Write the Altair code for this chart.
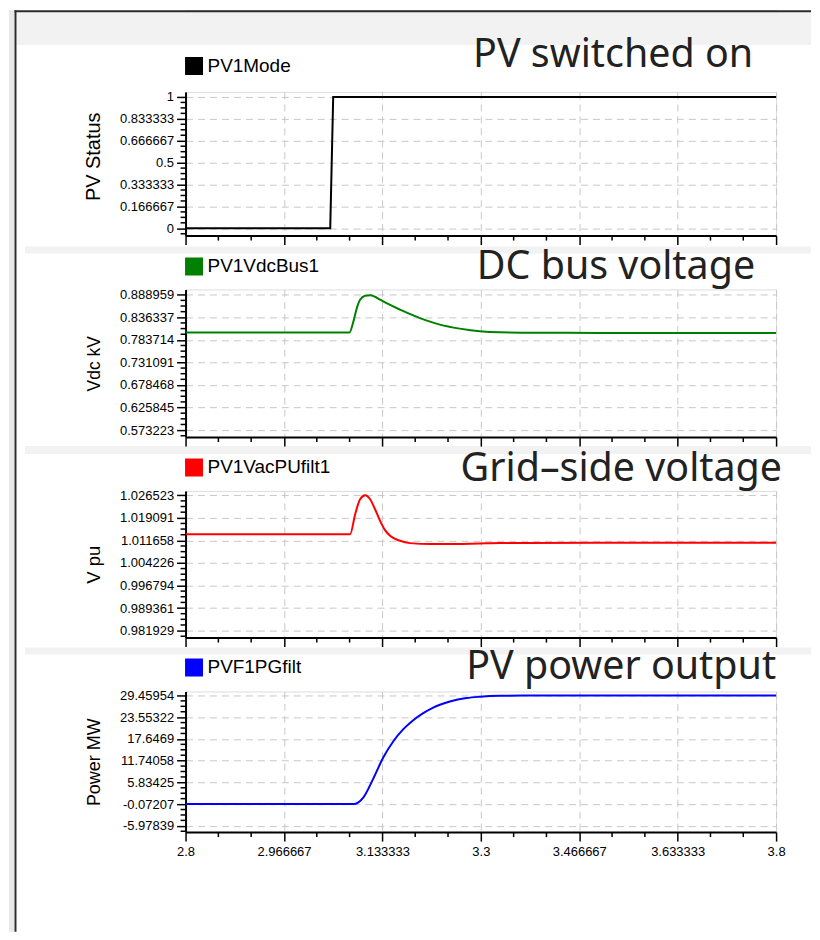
import altair as alt
import pandas as pd

# ---------------- data ----------------
x_ticks = [2.8, 2.966667, 3.133333, 3.3, 3.466667, 3.633333, 3.8]

mode_name = "PV1Mode"
mode_t = [2.8, 3.045, 3.050, 3.8]
mode_v = [0, 0, 1, 1]
mode_ticks = [0, 0.166667, 0.333333, 0.5, 0.666667, 0.833333, 1]

vdc_name = "PV1VdcBus1"
vdc_t = [2.8, 3.0775, 3.0843, 3.0900, 3.0956, 3.1041, 3.1125, 3.1209, 3.1294,
         3.1632, 3.1970, 3.2307, 3.2645, 3.2983, 3.3321, 3.40, 3.50, 3.8]
vdc_v = [0.8008, 0.8008, 0.8268, 0.8578, 0.8773, 0.8866, 0.8880, 0.8843, 0.8773,
         0.8541, 0.8345, 0.8192, 0.8099, 0.8036, 0.8012, 0.8003, 0.8000, 0.8000]
vdc_ticks = [0.573223, 0.625845, 0.678468, 0.731091, 0.783714, 0.836337, 0.888959]

vac_name = "PV1VacPUfilt1"
vac_t = [2.8, 3.0787, 3.0872, 3.0956, 3.1041, 3.1125, 3.1209, 3.1294, 3.1378,
         3.1463, 3.1632, 3.1801, 3.2139, 3.2476, 3.2983, 3.3321, 3.50, 3.8]
vac_v = [1.01370, 1.01370, 1.02028, 1.02521, 1.02652, 1.02521, 1.02192, 1.01808, 1.01502,
         1.01315, 1.01151, 1.01075, 1.01042, 1.01042, 1.01062, 1.01075, 1.01085, 1.01085]
vac_ticks = [0.981929, 0.989361, 0.996794, 1.004226, 1.011658, 1.019091, 1.026523]

pg_name = "PVF1PGfilt"
pg_t = [2.8, 3.0843, 3.0927, 3.1012, 3.1181, 3.1350, 3.1519, 3.1688, 3.1856,
        3.2025, 3.2194, 3.2476, 3.2758, 3.2983, 3.3321, 3.3878, 3.50, 3.8]
pg_v = [-0.07207, -0.07207, 0.40, 1.75, 6.93, 12.66, 17.02, 20.29, 22.74,
        24.65, 26.15, 27.79, 28.74, 29.10, 29.37, 29.45, 29.46, 29.46]
pg_ticks = [-5.97839, -0.07207, 5.83425, 11.74058, 17.6469, 23.55322, 29.45954]

notes = ["PV switched on", "DC bus voltage", "Grid\u2013side voltage", "PV power output"]
y_titles = ["PV Status", "Vdc kV", "V pu", "Power MW"]
colors = ["#000000", "#008000", "#ff0000", "#0000ff"]

# ---------------- layout / style ----------------
W = 592
FONT = "Liberation Sans"
GRID = "#c8c8c8"


def minor_of(major, n_sub, lo, hi):
    vals = []
    for a, b in zip(major[:-1], major[1:]):
        for k in range(1, n_sub):
            vals.append(a + (b - a) * k / n_sub)
    step = (major[1] - major[0]) / n_sub
    k = 1
    while major[0] - k * step >= lo:
        vals.append(major[0] - k * step)
        k += 1
    k = 1
    while major[-1] + k * step <= hi:
        vals.append(major[-1] + k * step)
        k += 1
    return sorted(vals)


def major_axis(values, orient, labels=True, title=None, title_size=18.5, title_y=None):
    kw = dict(
        values=values, orient=orient, labels=labels,
        labelOverlap=False, labelFlush=False,
        labelFont=FONT, labelFontSize=13, labelColor="black",
        labelPadding=4 if orient == "bottom" else 3,
        domainColor="black", domainWidth=2,
        tickColor="black", tickWidth=1.5, tickSize=9,
        grid=True, gridColor=GRID, gridDash=[7, 5], gridWidth=1,
        titleFont=FONT, titleFontSize=title_size, titleFontWeight="normal",
        titleColor="black", titlePadding=16,
    )
    if labels:
        kw["labelExpr"] = "toString(datum.value)"
    kw["title"] = title
    if title_y is not None:
        kw["titleY"] = title_y
    return alt.Axis(**kw)


def panel(t, v, name, color, yticks, ylo, yhi, ytitle, height, note, note_dx,
          legend_y, title_offset, interp, xlabels, title_size, title_y=None):
    df = pd.DataFrame({"t": t, "v": v, "series": name})
    xs = alt.Scale(domain=[2.8, 3.8], nice=False, zero=False)
    ys = alt.Scale(domain=[ylo, yhi], nice=False, zero=False)
    xax = major_axis(x_ticks, "bottom", labels=xlabels, title=None)
    yax = major_axis(yticks, "left", labels=True, title=ytitle,
                     title_size=title_size, title_y=title_y)
    xm = pd.DataFrame({"t": minor_of(x_ticks, 3, 2.8, 3.8)})
    ym = pd.DataFrame({"v": minor_of(yticks, 4, ylo, yhi)})

    line = alt.Chart(df).mark_line(strokeWidth=2, interpolate=interp).encode(
        x=alt.X("t:Q", scale=xs, axis=xax),
        y=alt.Y("v:Q", scale=ys, axis=yax),
        color=alt.Color("series:N", scale=alt.Scale(domain=[name], range=[color]),
                        legend=alt.Legend(orient="none", legendX=-1, legendY=legend_y,
                                          title=None, symbolType="square",
                                          symbolSize=256, symbolStrokeWidth=2,
                                          symbolFillColor=color,
                                          labelFont=FONT, labelFontSize=19,
                                          labelColor="black", labelOffset=4,
                                          padding=0)),
    )
    # minor tick marks along both axes, positioned through the same scales
    x_minor = alt.Chart(xm).mark_rule(color="black", strokeWidth=1.5).encode(
        x=alt.X("t:Q", scale=xs, axis=xax),
        y=alt.value(height), y2=alt.value(height + 5),
    )
    y_minor = alt.Chart(ym).mark_rule(color="black", strokeWidth=1.5).encode(
        y=alt.Y("v:Q", scale=ys, axis=yax),
        x=alt.value(-5), x2=alt.value(0),
    )
    return alt.layer(line, x_minor, y_minor).properties(
        width=W, height=height,
        title=alt.Title(note, anchor="end", font="Noto Sans", fontSize=39.5,
                        fontWeight="normal", color="#222222", dx=note_dx,
                        offset=title_offset),
    )


# decorative slide frame (header cell, origin at page (185, 8))
OX, OY = 185, 8
deco = pd.DataFrame({"k": [0]})


def rect(px1, px2, py1, py2, color):
    return alt.Chart(deco).mark_rect(color=color).encode(
        x=alt.value(px1 - OX), x2=alt.value(px2 - OX),
        y=alt.value(py1 - OY), y2=alt.value(py2 - OY))


header = alt.layer(
    rect(8, 13, 8, 932, "#e8e8e8"),
    rect(15.5, 812, 10, 43, "#f2f2f2"),
    rect(24, 812, 245, 252, "#f2f2f2"),
    rect(24, 812, 445, 453, "#f2f2f2"),
    rect(24, 812, 647, 654, "#f2f2f2"),
    rect(13.5, 15.5, 8, 932, "#2b2b2b"),
    rect(13.5, 812, 8, 10, "#2b2b2b"),
).properties(width=W, height=28)

p1 = panel(mode_t, mode_v, mode_name, colors[0], mode_ticks, -0.0554, 1.038,
           y_titles[0], 144, notes[0], -27, -35.5, -19, "linear", False, 20, 64.5)
p2 = panel(vdc_t, vdc_v, vdc_name, colors[1], vdc_ticks, 0.55694, 0.90129,
           y_titles[1], 148, notes[1], -25, -32.5, -31, "monotone", False, 17.5)
p3 = panel(vac_t, vac_v, vac_name, colors[2], vac_ticks, 0.979629, 1.027936,
           y_titles[2], 147, notes[2], 2, -33, -32, "monotone", False, 18.5)
p4 = panel(pg_t, pg_v, pg_name, colors[3], pg_ticks, -7.687, 30.544,
           y_titles[3], 141, notes[3], -9, -33.5, -30, "monotone", True, 18)

chart = alt.vconcat(header, p1, p2, p3, p4, spacing=54, bounds="flush").resolve_scale(
    x="independent", y="independent", color="independent"
).resolve_legend(color="independent").properties(padding=0).configure_view(
    strokeWidth=0
).configure(background="white")

chart.save("out.html", embed_options={"renderer": "svg", "actions": False})
